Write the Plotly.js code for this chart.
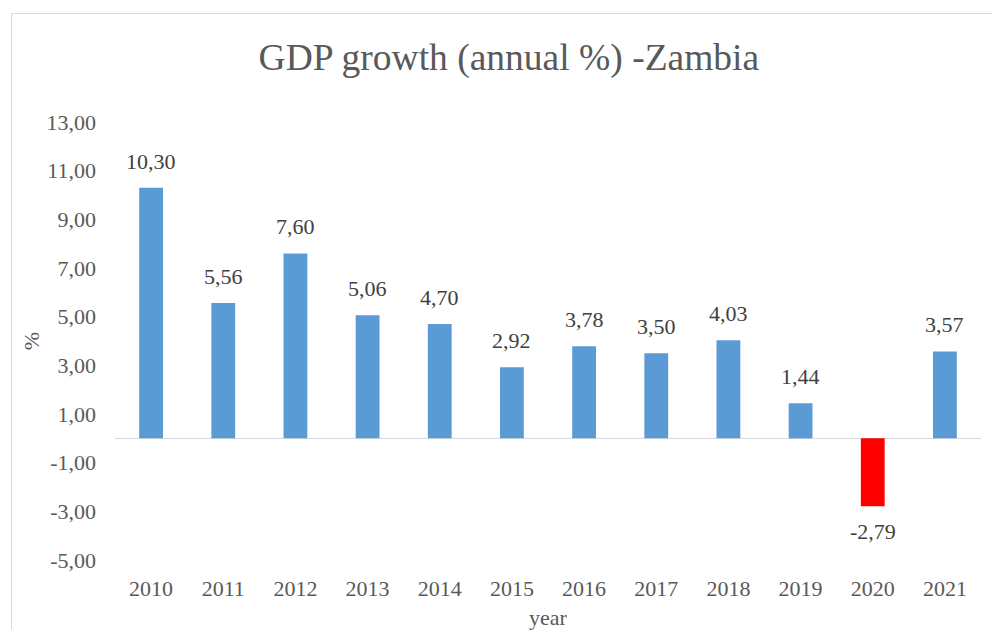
<!DOCTYPE html>
<html>
<head>
<meta charset="utf-8">
<script src="https://cdn.plot.ly/plotly-3.0.1.min.js"></script>
<style>
  html, body { margin: 0; padding: 0; background: #ffffff; }
  #chart { width: 992px; height: 630px; }
  #frame {
    position: absolute; left: 11px; top: 13px; width: 1000px; height: 640px;
    border-left: 1.5px solid #d9d9d9; border-top: 1.5px solid #d9d9d9;
    pointer-events: none;
  }
</style>
</head>
<body>
<div id="chart"></div>
<div id="frame"></div>
<script>
// GDP growth (annual %) - Zambia
const years = ['2010', '2011', '2012', '2013', '2014', '2015', '2016', '2017', '2018', '2019', '2020', '2021'];
const growth = [10.30, 5.56, 7.60, 5.06, 4.70, 2.92, 3.78, 3.50, 4.03, 1.44, -2.79, 3.57];
const yTicks = [-5, -3, -1, 1, 3, 5, 7, 9, 11, 13];

// comma decimal, like the original sheet
const fmt = v => v.toFixed(2).replace('.', ',');

const serif = 'Liberation Serif, Times New Roman, serif';
const barColors = growth.map(v => v < 0 ? '#ff0000' : '#5b9bd5');

const trace = {
  type: 'bar',
  x: years,
  y: growth,
  marker: { color: barColors, line: { width: 0 } },
  hoverinfo: 'x+y'
};

// value labels sit a bit further from the bar end than plotly's own 'outside' text
// (x given as category index, so '2010' is not read as a number)
const valueLabels = growth.map((v, i) => ({
  x: i,
  y: v,
  xref: 'x',
  yref: 'y',
  text: fmt(v),
  showarrow: false,
  yanchor: v < 0 ? 'top' : 'bottom',
  yshift: v < 0 ? -11 : 12,
  font: { family: serif, size: 22, color: '#404040' }
}));

const layout = {
  width: 992,
  height: 630,
  margin: { l: 115, r: 11, t: 122, b: 70 },
  paper_bgcolor: '#ffffff',
  plot_bgcolor: '#ffffff',
  font: { family: serif, color: '#595959' },
  showlegend: false,
  bargap: 0.67,
  title: {
    text: 'GDP growth (annual %) -Zambia',
    font: { family: serif, size: 37.5, color: '#595959' },
    x: 0.513,
    xanchor: 'center',
    y: 0.91,
    yanchor: 'middle'
  },
  xaxis: {
    type: 'category',
    categoryorder: 'array',
    categoryarray: years,
    range: [-0.5, years.length - 0.5],
    showgrid: false,
    zeroline: false,
    showline: false,
    ticks: '',
    ticklabelstandoff: 13,
    tickfont: { family: serif, size: 22, color: '#595959' },
    title: { text: 'year', font: { family: serif, size: 22, color: '#595959' }, standoff: 10 }
  },
  yaxis: {
    range: [-5, 13],
    tickvals: yTicks,
    ticktext: yTicks.map(fmt),
    showgrid: false,
    zeroline: true,
    zerolinecolor: '#d9d9d9',
    zerolinewidth: 1.5,
    showline: false,
    ticks: '',
    ticklabelstandoff: 18,
    tickfont: { family: serif, size: 22, color: '#595959' },
    title: { text: '%', font: { family: serif, size: 22, color: '#595959' }, standoff: 0 }
  },
  annotations: valueLabels
};

Plotly.newPlot('chart', [trace], layout, { displayModeBar: false, staticPlot: true });
</script>
</body>
</html>
